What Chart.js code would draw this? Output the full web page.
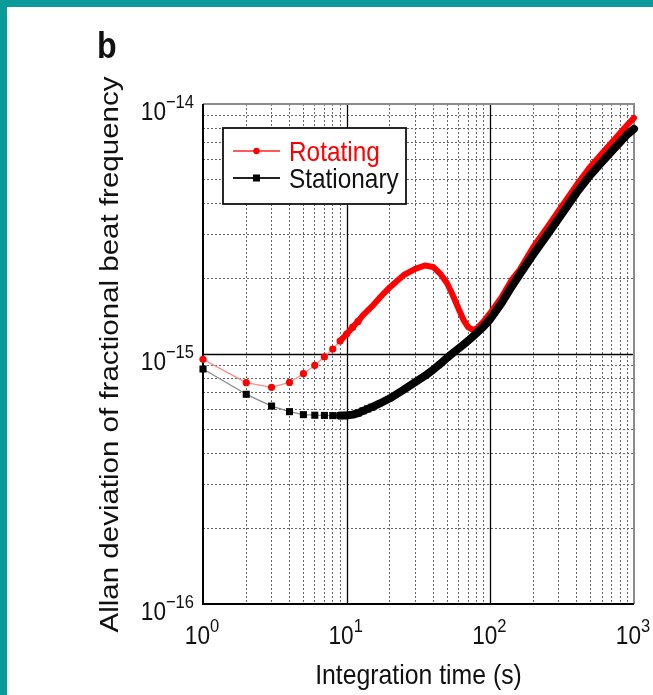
<!DOCTYPE html>
<html>
<head>
<meta charset="utf-8">
<script src="https://cdn.jsdelivr.net/npm/chart.js@4.4.0/dist/chart.umd.min.js"></script>
<style>
  html, body { margin: 0; padding: 0; }
  body { width: 653px; height: 695px; background: #0a9a9a; position: relative; overflow: hidden; }
  #sheet { position: absolute; left: 7px; top: 7px; right: 0; bottom: 0; background: #fff; }
  #allanChart { position: absolute; left: 0; top: 0; }
</style>
</head>
<body>
<div id="sheet"></div>
<canvas id="allanChart" width="653" height="695"></canvas>
<script>
// Allan deviation vs integration time, values in units of 1e-16
const UNIT = 1e-16;
const tau = [1, 2, 3, 4, 5, 6, 7, 8, 9, 10, 11, 12, 13, 14, 15, 17, 20, 25, 30, 35, 40, 45, 50, 55, 60,
  65, 70, 75, 80, 90, 100, 120, 140, 160, 200, 250, 300, 400, 500, 600, 700, 800, 900, 1000];
const stationary = [8.71, 6.90, 6.19, 5.88, 5.72, 5.69, 5.68, 5.67, 5.67, 5.68, 5.72, 5.80, 5.92, 6.03, 6.13,
  6.34, 6.65, 7.20, 7.72, 8.17, 8.65, 9.15, 9.65, 10.1, 10.5, 10.9, 11.3, 11.7, 12.1, 12.9, 13.8,
  16.0, 18.5, 20.8, 25.1, 30.1, 34.9, 44.3, 52.2, 58.7, 64.7, 70.3, 75.6, 79.5];
const rotating = [9.52, 7.68, 7.36, 7.70, 8.34, 9.01, 9.75, 10.47, 11.27, 12.02, 12.8, 13.5, 14.3, 14.9, 15.5,
  16.8, 18.5, 20.7, 21.9, 22.6, 22.3, 20.9, 19.2, 17.1, 15.2, 13.7, 12.8, 12.5, 12.6, 13.5, 14.6,
  16.9, 19.7, 21.7, 26.9, 32.2, 37.5, 47.6, 56.4, 63.5, 70.2, 76.6, 82.6, 88.0];

const seriesNames = ['Rotating', 'Stationary'];
const xDecadeExp = [0, 1, 2, 3];
const yDecadeExp = [-16, -15, -14];
const panelLetter = 'b';
const xTitle = 'Integration time (s)';
const yTitle = 'Allan deviation of fractional beat frequency';

const RED = '#ff0000';
const FONT = '"Liberation Sans", Arial, Helvetica, sans-serif';
const SQUISH = 0.87; // lettering is narrow in this figure

// 1,2,...,9,10,20,... across the decades
function logTicks(exps) {
  const out = [];
  for (let i = 0; i < exps.length - 1; i++) {
    const d = Math.pow(10, exps[i]);
    for (let k = 1; k < 10; k++) out.push(k * d);
  }
  out.push(Math.pow(10, exps[exps.length - 1]));
  return out;
}
function isDecade(v) {
  const l = Math.log10(v);
  return Math.abs(l - Math.round(l)) < 1e-6;
}

function textWidth(ctx, str, font) {
  ctx.save();
  ctx.font = font;
  const w = ctx.measureText(str).width * SQUISH;
  ctx.restore();
  return w;
}
function squishText(ctx, str, x, y, font, color) {
  ctx.save();
  ctx.font = font;
  ctx.fillStyle = color || '#111';
  ctx.textAlign = 'left';
  ctx.textBaseline = 'alphabetic';
  ctx.translate(x, y);
  ctx.scale(SQUISH, 1);
  ctx.fillText(str, 0, 0);
  ctx.restore();
}
// "10" with a raised exponent; returns nothing, anchors by group left edge
function powerLabel(ctx, exp, left, baseY) {
  const baseFont = '26px ' + FONT;
  const expFont = '19px ' + FONT;
  const wb = textWidth(ctx, '10', baseFont);
  squishText(ctx, '10', left, baseY, baseFont);
  squishText(ctx, exp, left + wb, baseY - 12, expFont);
}
function powerWidth(ctx, exp) {
  return textWidth(ctx, '10', '26px ' + FONT) + textWidth(ctx, exp, '19px ' + FONT);
}
function expText(e) {
  return e < 0 ? '\u2212' + Math.abs(e) : String(e);
}

// solid decade lines and the axes box
const frameLines = {
  id: 'frameLines',
  beforeDatasetsDraw(chart) {
    const { ctx, chartArea: a, scales: { x, y } } = chart;
    ctx.save();
    ctx.strokeStyle = '#000';
    ctx.lineWidth = 1.3;
    xDecadeExp.slice(1, -1).forEach(e => {
      const px = Math.round(x.getPixelForValue(Math.pow(10, e))) + 0.5;
      ctx.beginPath(); ctx.moveTo(px, a.top); ctx.lineTo(px, a.bottom); ctx.stroke();
    });
    yDecadeExp.slice(1, -1).forEach(e => {
      const py = Math.round(y.getPixelForValue(Math.pow(10, e))) + 0.5;
      ctx.beginPath(); ctx.moveTo(a.left, py); ctx.lineTo(a.right, py); ctx.stroke();
    });
    ctx.lineWidth = 2;
    ctx.strokeStyle = '#8c8c8c';
    ctx.beginPath();
    ctx.moveTo(a.left, a.top); ctx.lineTo(a.right, a.top); ctx.lineTo(a.right, a.bottom);
    ctx.stroke();
    ctx.strokeStyle = '#000';
    ctx.beginPath();
    ctx.moveTo(a.left, a.top); ctx.lineTo(a.left, a.bottom); ctx.lineTo(a.right, a.bottom);
    ctx.stroke();
    ctx.restore();
  }
};

// tick labels, titles, legend box and panel letter
const lettering = {
  id: 'lettering',
  afterDraw(chart) {
    const { ctx, chartArea: a, scales: { x, y } } = chart;

    xDecadeExp.forEach(e => {
      const s = expText(e);
      const px = x.getPixelForValue(Math.pow(10, e));
      powerLabel(ctx, s, px - 1 - powerWidth(ctx, s) / 2, a.bottom + 40);
    });
    yDecadeExp.forEach(e => {
      const s = expText(e);
      const py = y.getPixelForValue(Math.pow(10, e));
      powerLabel(ctx, s, a.left - 9 - powerWidth(ctx, s), py + 16);
    });

    const xtFont = '28.5px ' + FONT;
    squishText(ctx, xTitle, (a.left + a.right) / 2 - textWidth(ctx, xTitle, xtFont) / 2, a.bottom + 80, xtFont);

    ctx.save();
    ctx.translate(118, 354.5);
    ctx.rotate(-Math.PI / 2);
    ctx.scale(1, SQUISH);
    ctx.font = '29.5px ' + FONT;
    ctx.fillStyle = '#111';
    ctx.textAlign = 'center';
    ctx.textBaseline = 'alphabetic';
    ctx.fillText(yTitle, 0, 0);
    ctx.restore();

    squishText(ctx, panelLetter, 97, 58, 'bold 37px ' + FONT);

    // legend
    const box = { left: 223, top: 128, right: 406, bottom: 204 };
    ctx.save();
    ctx.fillStyle = '#fff';
    ctx.fillRect(box.left, box.top, box.right - box.left, box.bottom - box.top);
    ctx.strokeStyle = '#111';
    ctx.lineWidth = 1.8;
    ctx.strokeRect(box.left, box.top, box.right - box.left, box.bottom - box.top);
    const rows = [
      { y: 151, line: '#ff5a5a', mark: RED, text: RED, square: false },
      { y: 178, line: '#222', mark: '#000', text: '#111', square: true }
    ];
    rows.forEach((r, i) => {
      ctx.strokeStyle = r.line;
      ctx.lineWidth = 2;
      ctx.beginPath(); ctx.moveTo(233, r.y); ctx.lineTo(280, r.y); ctx.stroke();
      ctx.fillStyle = r.mark;
      if (r.square) {
        ctx.fillRect(253, r.y - 3.5, 7, 7);
      } else {
        ctx.beginPath(); ctx.arc(256.5, r.y, 3.2, 0, Math.PI * 2); ctx.fill();
      }
      squishText(ctx, seriesNames[i], 289, r.y + 9.5, '28px ' + FONT, r.text);
    });
    ctx.restore();
  }
};

function points(vals) {
  return tau.map((t, i) => ({ x: t, y: vals[i] * UNIT }));
}

new Chart(document.getElementById('allanChart'), {
  type: 'line',
  data: {
    datasets: [
      {
        label: seriesNames[1],
        data: points(stationary),
        borderColor: '#000',
        backgroundColor: '#000',
        pointStyle: 'rect',
        pointRadius: c => (c.raw && c.raw.x <= 15 ? 5 : 0),
        pointBorderWidth: 0,
        tension: 0,
        clip: false,
        borderCapStyle: 'round',
        borderJoinStyle: 'round',
        segment: {
          borderWidth: c => (c.p0.parsed.x >= 9 ? 8 : 1.3),
          borderColor: c => (c.p0.parsed.x >= 9 ? '#000' : '#8a8a8a')
        }
      },
      {
        label: seriesNames[0],
        data: points(rotating),
        borderColor: RED,
        backgroundColor: RED,
        pointStyle: 'circle',
        pointRadius: c => (c.raw && c.raw.x <= 12 ? 3.6 : 0),
        pointBorderWidth: 0,
        tension: 0,
        clip: false,
        borderCapStyle: 'round',
        borderJoinStyle: 'round',
        segment: {
          borderWidth: c => (c.p0.parsed.x >= 9 ? 6 : 1.3),
          borderColor: c => (c.p0.parsed.x >= 9 ? RED : '#ff8c8c')
        }
      }
    ]
  },
  options: {
    responsive: false,
    animation: false,
    layout: { padding: { left: 203, top: 104, right: 19, bottom: 91 } },
    plugins: { legend: { display: false }, tooltip: { enabled: false } },
    scales: {
      x: {
        type: 'logarithmic',
        min: 1,
        max: 1000,
        afterBuildTicks: s => { s.ticks = logTicks(xDecadeExp).map(v => ({ value: v })); },
        ticks: { display: false },
        grid: {
          drawTicks: false,
          lineWidth: 1,
          color: c => (c.tick && isDecade(c.tick.value) ? 'rgba(0,0,0,0)' : '#666')
        },
        border: { display: false, dash: [2, 2] }
      },
      y: {
        type: 'logarithmic',
        min: 1e-16,
        max: 1e-14,
        afterBuildTicks: s => { s.ticks = logTicks(yDecadeExp).map(v => ({ value: v })); },
        ticks: { display: false },
        grid: {
          drawTicks: false,
          lineWidth: 1,
          color: c => (c.tick && isDecade(c.tick.value) ? 'rgba(0,0,0,0)' : '#666')
        },
        border: { display: false, dash: [2, 2] }
      }
    }
  },
  plugins: [frameLines, lettering]
});
</script>
</body>
</html>
